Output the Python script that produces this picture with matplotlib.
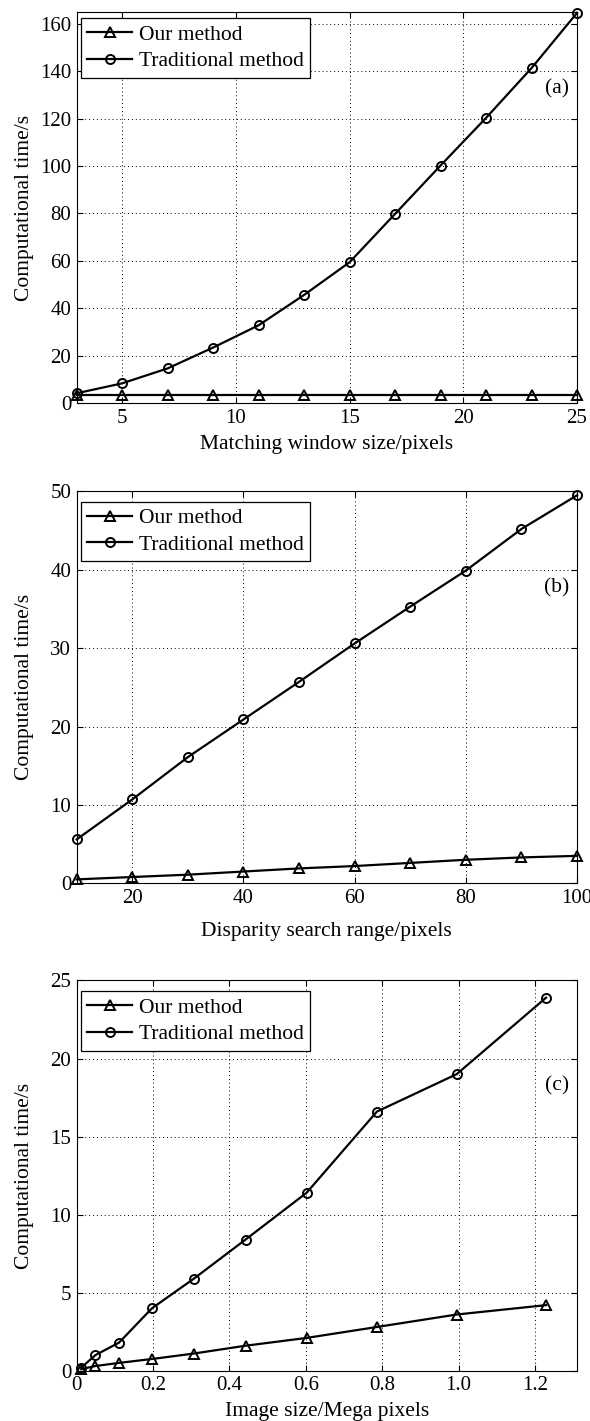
import numpy as np
import matplotlib
matplotlib.use('Agg')
import matplotlib.pyplot as plt

plt.rcParams['font.family'] = ['Liberation Serif', 'DejaVu Serif']
plt.rcParams['mathtext.fontset'] = 'stix'

# (a) czas obliczen vs rozmiar okna dopasowania
win_size = [3, 5, 7, 9, 11, 13, 15, 17, 19, 21, 23, 25]
win_our = [3.3, 3.3, 3.3, 3.3, 3.3, 3.3, 3.3, 3.3, 3.3, 3.3, 3.3, 3.3]
win_trad = [4.1, 8.3, 14.6, 23.4, 32.8, 45.6, 59.4, 79.8, 100.2, 120.3, 141.3, 164.6]

# (b) czas obliczen vs zakres poszukiwania dysparycji
disp_range = [10, 20, 30, 40, 50, 60, 70, 80, 90, 100]
disp_our = [0.5, 0.8, 1.1, 1.5, 1.9, 2.2, 2.6, 3.0, 3.3, 3.5]
disp_trad = [5.6, 10.7, 16.1, 20.9, 25.7, 30.6, 35.3, 39.9, 45.2, 49.5]

# (c) czas obliczen vs rozmiar obrazu
img_size = [0.012, 0.049, 0.111, 0.197, 0.307, 0.442, 0.602, 0.786, 0.995, 1.229]
img_our = [0.1, 0.3, 0.5, 0.75, 1.1, 1.6, 2.1, 2.8, 3.6, 4.2]
img_trad = [0.2, 1.0, 1.8, 4.0, 5.9, 8.4, 11.4, 16.6, 19.0, 23.9]

series_names = ['Our method', 'Traditional method']
ylabel = 'Computational time/s'
xlabels = ['Matching window size/pixels', 'Disparity search range/pixels', 'Image size/Mega pixels']
panel_tags = ['(a)', '(b)', '(c)']

xticks_a = [5, 10, 15, 20, 25]
yticks_a = [0, 20, 40, 60, 80, 100, 120, 140, 160]
xticks_b = [20, 40, 60, 80, 100]
yticks_b = [0, 10, 20, 30, 40, 50]
xticks_c = [0, 0.2, 0.4, 0.6, 0.8, 1.0, 1.2]
xticklabels_c = ['0', '0.2', '0.4', '0.6', '0.8', '1.0', '1.2']
yticks_c = [0, 5, 10, 15, 20, 25]

fig = plt.figure(figsize=(5.9, 14.21), dpi=100)

# pozycje osi [left, bottom, width, height]
ax_a = fig.add_axes([0.130, 0.7164, 0.848, 0.2752])
ax_b = fig.add_axes([0.130, 0.3784, 0.848, 0.2758])
ax_c = fig.add_axes([0.130, 0.0354, 0.848, 0.2746])

panels = [
    (ax_a, win_size, win_our, win_trad, (3, 25), (0, 165), xticks_a, None, yticks_a, 0.984, 0.803, -0.082),
    (ax_b, disp_range, disp_our, disp_trad, (10, 100), (0, 50), xticks_b, None, yticks_b, 0.973, 0.754, -0.1),
    (ax_c, img_size, img_our, img_trad, (0, 1.31), (0, 25), xticks_c, xticklabels_c, yticks_c, 0.972, 0.731, -0.08),
]

for i, (ax, x, y_our, y_trad, xl, yl, xt, xtl, yt, leg_y, tag_y, xlab_y) in enumerate(panels):
    ax.plot(x, y_our, '-^', color='black', lw=1.6, ms=7.5, mfc='none', mew=1.4,
            label=series_names[0], clip_on=False, zorder=3)
    ax.plot(x, y_trad, '-o', color='black', lw=1.6, ms=6.5, mfc='none', mew=1.4,
            label=series_names[1], clip_on=False, zorder=3)
    ax.set_xlim(xl)
    ax.set_ylim(yl)
    ax.set_xticks(xt)
    if xtl is not None:
        ax.set_xticklabels(xtl)
    ax.set_yticks(yt)
    ax.grid(True, linestyle=(0, (1, 3)), color='black', linewidth=0.7)
    ax.tick_params(direction='in', length=4, width=0.8, top=True, right=True,
                   labelsize=15, pad=4)
    for sp in ax.spines.values():
        sp.set_linewidth(0.8)
    ax.set_xlabel(xlabels[i], fontsize=15.5)
    ax.set_ylabel(ylabel, fontsize=15.5)
    ax.xaxis.set_label_coords(0.5, xlab_y)
    ax.yaxis.set_label_coords(-0.085, 0.5)
    leg = ax.legend(loc='upper left', bbox_to_anchor=(0.008, leg_y), borderaxespad=0,
                    fontsize=15.5, handlelength=2.1, handletextpad=0.3, labelspacing=0.3,
                    borderpad=0.3, fancybox=False, framealpha=1, edgecolor='black')
    leg.get_frame().set_linewidth(0.9)
    ax.text(0.96, tag_y, panel_tags[i], transform=ax.transAxes, fontsize=15.5,
            ha='center', va='center')

fig.savefig('out.png', dpi=100)
